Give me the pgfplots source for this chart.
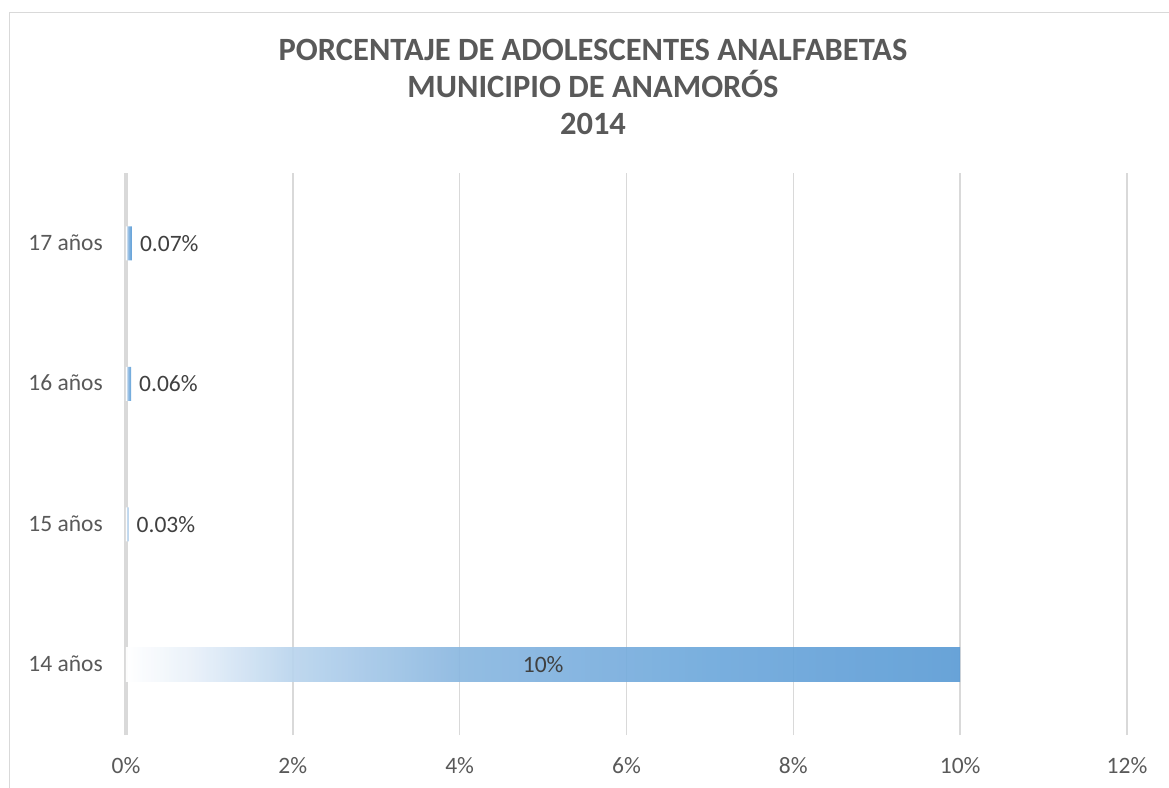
\documentclass[border=0pt]{standalone}
\usepackage{fontspec}
\setmainfont{Carlito}
\usepackage{pgfplots}
\pgfplotsset{compat=1.18}
\definecolor{barblue}{RGB}{91,155,213}
\definecolor{fadeA}{RGB}{232,240,249}
\definecolor{fadeB}{RGB}{185,212,237}
\definecolor{fadeC}{RGB}{138,183,224}
\definecolor{fadeD}{RGB}{110,168,219}
\definecolor{gridgray}{RGB}{217,217,217}
\definecolor{ticktext}{RGB}{89,89,89}
\definecolor{valtext}{RGB}{64,64,64}
% white on the left, blue on the right (stops 25bp..75bp cover the bar)
\pgfdeclarehorizontalshading{barfade}{100bp}{color(0bp)=(white); color(25bp)=(white);
  color(29bp)=(fadeA); color(35bp)=(fadeB); color(45bp)=(fadeC); color(60bp)=(fadeD);
  color(75bp)=(barblue); color(100bp)=(barblue)}

\begin{document}
\begin{tikzpicture}
\useasboundingbox (0,0) rectangle (1169bp,-788bp);
% chart frame (only top and left edges fall inside the picture)
\draw[gridgray, line width=1.5bp] (9.5bp,-830bp) -- (9.5bp,-12.5bp) -- (1220bp,-12.5bp);

\begin{scope}[every node/.style={anchor=base, text=ticktext,
    font=\fontsize{32.5bp}{37bp}\selectfont\bfseries}]
  \node at (593bp,-60bp) {PORCENTAJE DE ADOLESCENTES ANALFABETAS};
  \node at (593bp,-97bp) {MUNICIPIO DE ANAMORÓS};
  \node at (593bp,-134bp) {2014};
\end{scope}

\begin{axis}[
  at={(126bp,-735bp)}, anchor=south west,
  scale only axis, width=1001bp, height=562bp,
  xbar, bar width=34bp, bar shift=0pt,
  xmin=0, xmax=12, ymin=0.5, ymax=4.5,
  xtick={0,2,...,12}, ytick={1,2,3,4},
  yticklabels={14 años,15 años,16 años,17 años},
  xticklabel={\pgfmathprintnumber{\tick}\%},
  /pgf/number format/assume math mode=true,
  major tick length=0pt,
  axis lines*=left,
  x axis line style={draw=none},
  y axis line style={draw=gridgray, line width=3bp, -},
  xmajorgrids, grid style={gridgray, line width=1.5bp},
  tick label style={text=ticktext, font=\fontsize{23.5bp}{28bp}\selectfont},
  xticklabel style={anchor=base, inner sep=0pt, yshift=-38bp},
  yticklabel style={anchor=base east, inner sep=0pt, xshift=-23bp, yshift=-7bp},
  nodes near coords,
  point meta=explicit symbolic,
  every node near coord/.append style={text=valtext,
    font=\fontsize{23.5bp}{28bp}\selectfont},
]
% 15, 16, 17 anos: labels just past the bar end
\addplot[draw=none, shading=barfade, shade, fill opacity=0.95, text opacity=1,
  every node near coord/.append style={anchor=west, inner sep=8bp}]
  coordinates {
  (0.03,2) [0.03\%]
  (0.06,3) [0.06\%]
  (0.07,4) [0.07\%]
};
% 14 anos: label in the middle of the bar
\addplot[draw=none, shading=barfade, shade, fill opacity=0.92, text opacity=1,
  every node near coord/.append style={anchor=center, xshift=-417bp}]
  coordinates {
  (10,1) [10\%]
};
\end{axis}
\end{tikzpicture}
\end{document}
